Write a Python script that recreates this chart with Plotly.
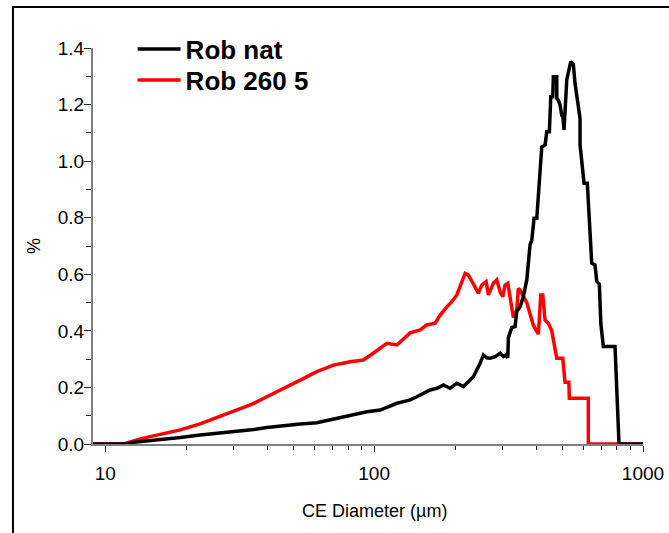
import math
import plotly.graph_objects as go

# ---- data ----
nat_d = [9.0, 12.2, 12.4, 13.5, 16.5, 19.0, 22.5, 26.4, 30.0, 35.0, 39.9, 46.0, 53.1, 61.2,
         70.6, 81.5, 94.0, 105.3, 111.5, 114.7, 121.5, 128.5, 136.1, 144.1, 152.5, 161.5,
         171.1, 181.0, 191.7, 203.0, 214.8, 224.2, 233.9, 240.9, 247.8, 254.9, 262.0, 270.0,
         281.8, 294.1, 302.5, 309.5, 314.1, 315.7, 325.0, 334.4, 339.3, 349.0, 358.9, 369.6,
         374.6, 380.1, 385.7, 393.4, 402.6, 411.7, 420.2, 432.3, 438.6, 448.5, 451.2, 453.9,
         461.7, 464.1, 477.8, 477.9, 484.3, 491.4, 498.6, 502.9, 508.5, 512.9, 520.5, 538.5,
         550.7, 558.7, 574.8, 583.2, 583.3, 596.8, 603.5, 620.7, 635.3, 644.6, 663.0, 673.0,
         688.0, 697.0, 711.9, 786.9, 814.3, 1000.0]
nat_pct = [0.0, 0.0, 0.005, 0.008, 0.017, 0.023, 0.032, 0.038, 0.043, 0.050, 0.058, 0.065,
           0.071, 0.075, 0.088, 0.103, 0.114, 0.120, 0.130, 0.132, 0.144, 0.150, 0.156, 0.167,
           0.179, 0.191, 0.197, 0.209, 0.197, 0.215, 0.203, 0.220, 0.238, 0.262, 0.285, 0.315,
           0.305, 0.303, 0.309, 0.321, 0.309, 0.315, 0.305, 0.376, 0.412, 0.415, 0.470, 0.485,
           0.521, 0.580, 0.630, 0.705, 0.720, 0.798, 0.798, 0.910, 1.050, 1.057, 1.104, 1.104,
           1.169, 1.228, 1.228, 1.298, 1.298, 1.222, 1.216, 1.199, 1.163, 1.163, 1.110, 1.193,
           1.287, 1.352, 1.342, 1.275, 1.193, 1.151, 1.057, 0.980, 0.922, 0.922, 0.740, 0.639,
           0.633, 0.575, 0.565, 0.425, 0.345, 0.345, 0.0, 0.0]

r260_d = [9.0, 11.7, 13.5, 16.5, 19.0, 22.5, 26.4, 30.0, 35.0, 39.9, 46.0, 53.1, 61.2, 70.6,
          81.5, 91.2, 99.2, 111.5, 121.5, 136.1, 148.3, 157.0, 168.6, 176.0, 186.4, 194.5,
          203.0, 208.8, 217.9, 224.2, 233.9, 244.2, 251.4, 260.9, 266.1, 277.7, 285.9, 294.1,
          300.9, 306.9, 314.1, 320.3, 329.5, 339.3, 343.9, 349.0, 358.9, 369.6, 380.1, 391.0,
          408.2, 416.6, 423.8, 432.3, 444.6, 457.8, 470.9, 477.8, 502.9, 512.9, 530.0, 532.1,
          626.0, 626.1, 1000.0]
r260_pct = [0.0, 0.0, 0.018, 0.038, 0.050, 0.071, 0.095, 0.114, 0.140, 0.167, 0.195, 0.226,
            0.256, 0.279, 0.291, 0.297, 0.321, 0.356, 0.350, 0.393, 0.403, 0.421, 0.427, 0.456,
            0.485, 0.503, 0.527, 0.556, 0.603, 0.597, 0.568, 0.533, 0.562, 0.574, 0.527, 0.568,
            0.580, 0.538, 0.521, 0.562, 0.568, 0.521, 0.447, 0.474, 0.550, 0.544, 0.521, 0.500,
            0.460, 0.420, 0.388, 0.527, 0.527, 0.438, 0.427, 0.400, 0.335, 0.303, 0.303, 0.218,
            0.218, 0.162, 0.162, 0.0, 0.0]

x_major = [10, 100, 1000]
x_major_text = ["10", "100", "1000"]
x_minor = [20, 30, 40, 50, 60, 70, 80, 90, 200, 300, 400, 500, 600, 700, 800, 900]
y_major = [0.0, 0.2, 0.4, 0.6, 0.8, 1.0, 1.2, 1.4]
y_minor = [0.1, 0.3, 0.5, 0.7, 0.9, 1.1, 1.3]
y_all = sorted(y_major + y_minor)

x_range = [math.log10(9.0), 3]
y_range = [0, 1.4]

fig = go.Figure()
fig.add_trace(go.Scatter(x=r260_d, y=r260_pct, mode="lines", name="Rob 260 5",
                         line=dict(color="#ff0000", width=3.5), legend="legend2",
                         cliponaxis=False))
fig.add_trace(go.Scatter(x=nat_d, y=nat_pct, mode="lines", name="Rob nat",
                         line=dict(color="#000000", width=3.5), legend="legend",
                         cliponaxis=False))

tick_col = "#222222"
leg_font = dict(size=26, weight="bold", color="black")
fig.update_layout(
    width=669, height=533,
    margin=dict(l=93, r=26, t=48, b=89, autoexpand=False),
    paper_bgcolor="white", plot_bgcolor="white",
    font=dict(family="Liberation Sans, Arial, sans-serif", size=19, color="black"),
    showlegend=True,
    legend=dict(x=0.072, y=0.9975, xanchor="left", yanchor="middle",
                font=leg_font, bgcolor="rgba(0,0,0,0)", itemwidth=43),
    legend2=dict(x=0.072, y=0.919, xanchor="left", yanchor="middle",
                 font=leg_font, bgcolor="rgba(0,0,0,0)", itemwidth=43),
    xaxis=dict(type="log", range=x_range, tickvals=x_major, ticktext=x_major_text,
               ticks="outside", ticklen=6, tickwidth=1, tickcolor=tick_col,
               ticklabelstandoff=5, automargin=False,
               showline=True, linecolor="#808080", linewidth=2, showgrid=False,
               zeroline=False, layer="below traces",
               minor=dict(tickvals=x_minor, ticks="outside", ticklen=4, tickwidth=1,
                          tickcolor=tick_col, showgrid=False)),
    yaxis=dict(range=y_range, tickvals=y_major, tickformat=".1f",
               ticks="outside", ticklen=7, tickwidth=1, tickcolor=tick_col,
               ticklabelstandoff=-4, automargin=False,
               showline=True, linecolor="#808080", linewidth=2, showgrid=False,
               zeroline=False, layer="below traces",
               minor=dict(tickvals=y_minor, ticks="outside", ticklen=5, tickwidth=1,
                          tickcolor=tick_col, showgrid=False),
               title=dict(text="%", font=dict(size=18), standoff=12)),
    xaxis2=dict(type="log", range=x_range, overlaying="x", anchor="y", side="bottom",
                tickvals=x_major, ticks="inside", ticklen=4, tickwidth=1, tickcolor=tick_col,
                showticklabels=False, showline=False, showgrid=False, zeroline=False,
                automargin=False),
    yaxis2=dict(range=y_range, overlaying="y", anchor="x", side="left",
                tickvals=y_all, ticks="inside", ticklen=6, tickwidth=1, tickcolor=tick_col,
                showticklabels=False, showline=False, showgrid=False, zeroline=False,
                automargin=False),
)

fig.add_annotation(text="CE Diameter (µm)", xref="paper", yref="paper",
                   x=0.512, y=-0.169, xanchor="center", yanchor="middle",
                   showarrow=False, font=dict(size=18))

fig.add_shape(type="rect", xref="paper", yref="paper",
              x0=-0.1455, x1=1.3, y0=-0.5, y1=1.1035,
              line=dict(color="black", width=2), fillcolor="rgba(0,0,0,0)", layer="below")

fig.write_html("out.html", config={"displayModeBar": False},
               post_script="document.body.style.margin='0px';")
